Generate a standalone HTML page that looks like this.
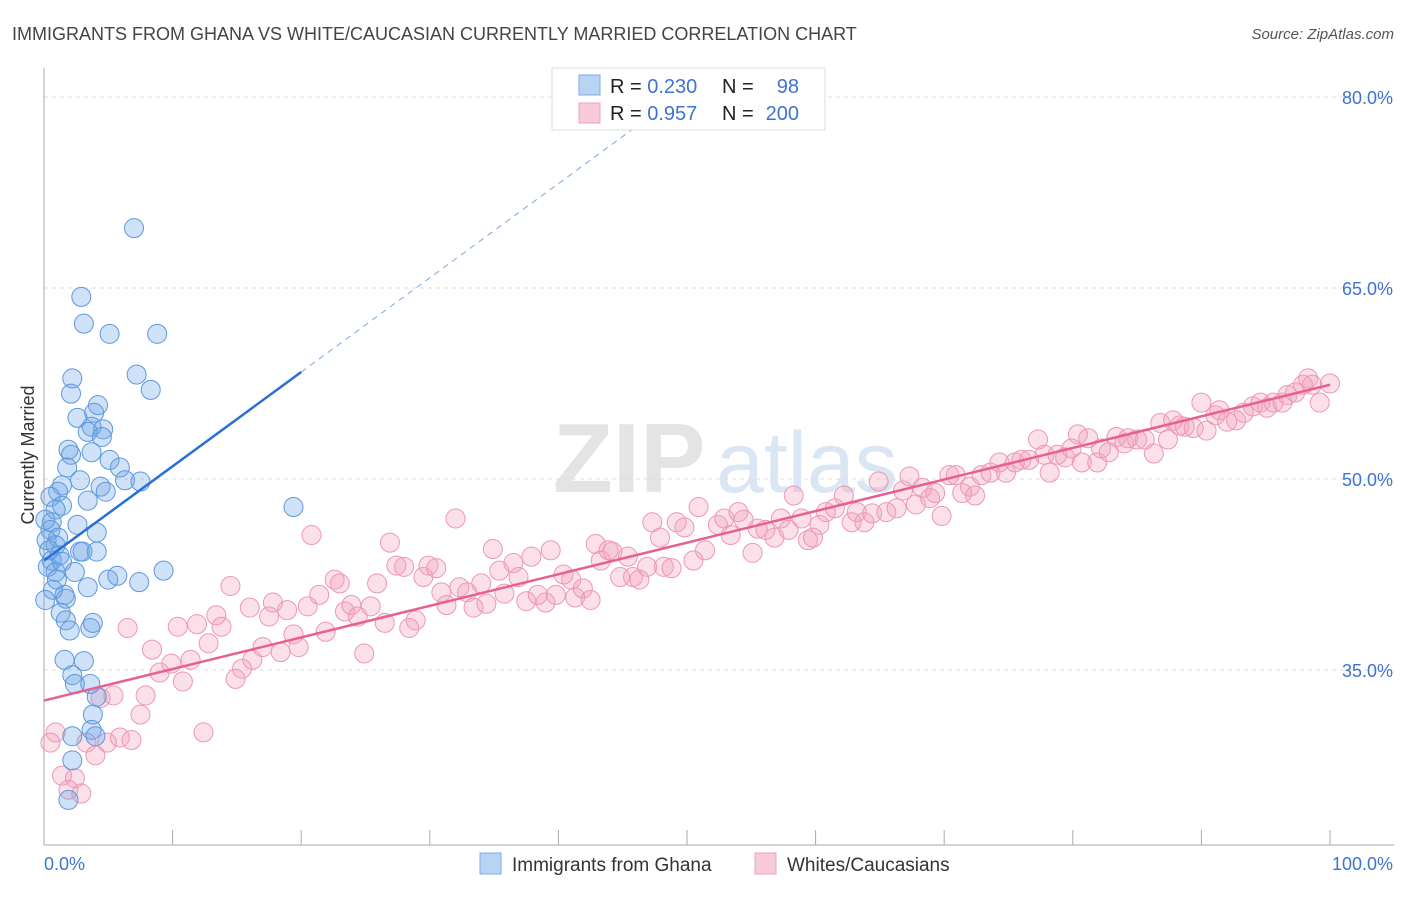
<!DOCTYPE html>
<html><head><meta charset="utf-8"><style>
body{margin:0;background:#fff;font-family:"Liberation Sans",sans-serif;}
svg text{font-family:"Liberation Sans",sans-serif;}
</style></head><body>
<svg id="chart" width="1406" height="892" viewBox="0 0 1406 892" xmlns="http://www.w3.org/2000/svg">
<text x="12" y="40" font-size="18" fill="#444">IMMIGRANTS FROM GHANA VS WHITE/CAUCASIAN CURRENTLY MARRIED CORRELATION CHART</text>
<text x="1394" y="39" font-size="15" fill="#555" font-style="italic" text-anchor="end">Source: ZipAtlas.com</text>
<g>
<text x="553" y="492" font-size="98" fill="#e4e4e4" font-family="Liberation Serif" font-weight="bold">ZIP</text>
<text x="716" y="492" font-size="86" fill="#dbe6f5">atlas</text>
</g>
<g id="grid"></g>
<g id="axes"></g>
<text transform="translate(34,455) rotate(-90)" font-size="18" fill="#333" text-anchor="middle">Currently Married</text>
<g id="pts"></g>
<g id="lines"></g>
<g>
<rect x="552" y="68" width="273" height="62" fill="#fff" stroke="#ddd"/>
<rect x="579" y="75" width="21" height="20" fill="#b9d3f3" stroke="#7eaee8"/>
<rect x="579" y="103" width="21" height="20" fill="#f9cad8" stroke="#eca1ba"/>
<text x="610" y="93" font-size="20" fill="#222">R = <tspan fill="#3f73d1">0.230</tspan></text>
<text x="722" y="93" font-size="20" fill="#222">N =</text>
<text x="799" y="93" font-size="20" fill="#3f73d1" text-anchor="end">98</text>
<text x="610" y="120" font-size="20" fill="#222">R = <tspan fill="#3f73d1">0.957</tspan></text>
<text x="722" y="120" font-size="20" fill="#222">N =</text>
<text x="799" y="120" font-size="20" fill="#3f73d1" text-anchor="end">200</text>
</g>
<g>
<rect x="480" y="853" width="21" height="21" fill="#b9d3f3" stroke="#7eaee8"/>
<text x="512" y="871" font-size="19" fill="#333">Immigrants from Ghana</text>
<rect x="755" y="853" width="21" height="21" fill="#f9cad8" stroke="#eca1ba"/>
<text x="787" y="871" font-size="19" fill="#333">Whites/Caucasians</text>
</g>
</svg>
<script>
const yTicks=[35,50,65,80];
const yTickLabels=["35.0%","50.0%","65.0%","80.0%"];
const xTickValues=[0,10,20,30,40,50,60,70,80,90,100];
const xEndLabels=["0.0%","100.0%"];
const blueX=[7.0,2.9,3.1,5.1,8.8,2.2,7.2,2.1,8.3,4.2,3.9,2.6,3.7,4.6,3.4,4.5,1.9,2.1,1.8,3.7,5.1,5.9,6.3,7.5,2.8,4.4,4.8,1.4,1.1,0.5,3.4,1.4,0.9,2.6,0.6,0.5,1.1,0.2,0.9,4.1,19.4,1.2,0.6,0.3,0.9,1.4,2.8,3.0,4.1,2.4,5.0,3.4,1.6,1.7,1.3,1.7,2.0,3.6,3.8,5.7,7.4,9.3,1.6,3.1,2.2,2.4,3.6,4.1,3.8,3.7,4.0,2.2,2.2,1.9,0.1,0.4,0.7,1.0,0.1];
const blueY=[69.7,64.3,62.2,61.4,61.4,57.9,58.2,56.7,57.0,55.8,55.2,54.8,54.1,53.9,53.7,53.3,52.3,51.9,50.9,52.1,51.5,50.9,49.9,49.8,49.9,49.4,49.0,49.5,49.0,48.6,48.3,47.9,47.6,46.4,46.6,46.0,45.4,45.2,44.8,45.8,47.8,44.0,43.6,43.1,42.7,43.5,44.3,44.3,44.3,42.7,42.1,41.5,40.9,40.6,39.5,38.9,38.1,38.3,38.7,42.4,41.9,42.8,35.8,35.7,34.6,33.9,33.9,32.9,31.5,30.3,29.8,29.8,27.9,24.8,46.8,44.4,41.3,42.1,40.5];
const pinkX=[6.5,8.4,7.9,7.5,5.4,4.4,0.9,0.5,3.3,4.0,4.9,5.9,6.8,12.4,1.4,2.4,1.9,2.9,9.0,9.9,10.8,11.4,10.4,11.9,12.8,13.4,13.8,14.5,16.0,17.5,17.8,18.9,16.2,17.0,15.4,14.9,18.4,19.4,19.8,20.5,21.4,21.9,20.8,22.6,23.0,23.4,23.9,24.4,25.4,24.9,25.9,26.5,26.9,27.4,28.0,28.4,28.9,29.5,29.9,30.5,30.9,31.3,32.0,32.3,32.9,33.4,34.0,34.4,34.9,35.4,35.8,36.5,36.9,37.5,37.9,38.4,39.0,39.4,39.8,40.4,41.0,41.3,41.9,42.5,42.9,43.3,43.9,44.2,44.8,45.4,45.8,46.3,46.9,47.3,47.9,48.2,48.8,49.2,
49.8,50.9,50.5,51.4,52.4,52.9,53.4,54.0,54.4,55.1,55.5,56.1,56.8,57.3,57.9,58.3,58.9,59.4,59.8,60.3,60.8,61.5,62.2,62.8,63.2,63.8,64.4,64.9,65.5,66.3,66.8,67.3,67.8,68.3,68.9,69.3,69.8,70.4,70.9,71.4,72.0,72.4,72.9,73.6,74.3,74.8,75.5,76.0,76.6,77.3,77.8,78.2,78.8,79.4,79.9,80.4,80.7,81.2,81.9,82.2,82.8,83.4,84.0,84.3,85.0,85.6,86.3,86.8,87.4,87.8,88.3,88.7,89.4,90.0,90.4,91.1,91.4,92.0,92.7,93.3,94.0,94.6,95.1,95.6,96.3,96.7,97.3,97.9,98.3,98.6,99.2,100.0];
const pinkY=[38.3,36.6,33.0,31.5,33.0,32.8,30.1,29.3,29.3,28.3,29.3,29.7,29.5,30.1,26.7,26.5,25.6,25.3,34.8,35.5,34.1,35.8,38.4,38.6,37.1,39.3,38.4,41.6,39.9,39.2,40.3,39.7,35.8,36.8,35.1,34.3,36.4,37.8,36.8,40.0,40.9,38.0,45.6,42.1,41.8,39.6,40.1,39.2,40.0,36.3,41.8,38.7,45.0,43.2,43.1,38.3,38.9,42.3,43.2,43.0,41.1,40.1,46.9,41.5,41.1,39.9,41.8,40.2,44.5,42.8,41.0,43.4,42.3,40.4,43.9,40.9,40.3,44.4,40.9,42.5,42.1,40.7,41.4,40.5,44.9,43.6,44.4,44.3,42.3,43.9,42.3,42.1,43.1,46.6,45.4,43.1,43.0,46.6,
46.2,47.8,43.6,44.4,46.4,46.9,45.6,47.4,46.8,44.2,46.1,46.0,45.4,46.9,46.0,48.7,46.9,45.2,45.4,46.4,47.4,47.7,48.7,46.6,47.4,46.6,47.3,49.8,47.4,47.7,49.1,50.2,48.0,49.3,48.5,48.9,47.1,50.3,50.3,48.9,49.4,48.7,50.3,50.5,51.3,50.5,51.3,51.5,51.5,53.1,51.9,50.5,51.9,51.7,52.4,53.5,51.3,53.2,51.3,52.4,52.1,53.3,52.8,53.2,53.1,53.1,52.0,54.4,53.1,54.6,54.2,54.1,54.0,56.0,53.8,55.0,55.4,54.5,54.6,55.2,55.7,56.0,55.6,56.0,56.0,56.6,56.8,57.4,57.9,57.4,56.0,57.5];
const blueFit=[43.6,0.74];   // intercept, slope
const pinkFit=[32.6,0.248];

const NS="http://www.w3.org/2000/svg";
const X0=44,X1=1330,YTOP=97,YBOT=670;
function sx(v){return X0+(X1-X0)*v/100;}
function sy(v){return YBOT-(YBOT-YTOP)*(v-35)/45;}
function mk(tag,attrs,parent){const e=document.createElementNS(NS,tag);for(const k in attrs)e.setAttribute(k,attrs[k]);parent.appendChild(e);return e;}
const grid=document.getElementById('grid'),axes=document.getElementById('axes');
yTicks.forEach((t,i)=>{
  const l=mk('line',{x1:44,x2:1394,y1:sy(t),y2:sy(t),stroke:'#ddd','stroke-dasharray':'4,4'},grid);
  
  
  const tx=mk('text',{x:1393,y:sy(t)+7,'font-size':18,fill:'#3f73d1','text-anchor':'end'},axes);
  tx.textContent=yTickLabels[i];
  
  
});
const ya=mk('line',{x1:44,x2:44,y1:68,y2:845,stroke:'#aaa'},axes);


const xa=mk('line',{x1:44,x2:1394,y1:845,y2:845,stroke:'#aaa'},axes);


xTickValues.forEach(v=>{
  const t=mk('line',{x1:sx(v),x2:sx(v),y1:830,y2:845,stroke:'#aaa'},axes);
  
  
});
const xl0=mk('text',{x:44,y:870,'font-size':18,fill:'#3f73d1'},axes);xl0.textContent=xEndLabels[0];


const xl1=mk('text',{x:1393,y:870,'font-size':18,fill:'#3f73d1','text-anchor':'end'},axes);xl1.textContent=xEndLabels[1];


const pts=document.getElementById('pts');


pinkX.forEach((x,i)=>{
  const c=mk('circle',{cx:sx(x),cy:sy(pinkY[i]),r:9.5,fill:'rgba(244,160,188,0.32)',stroke:'#ec98b4','stroke-width':1},pts);
  
  
});
blueX.forEach((x,i)=>{
  const c=mk('circle',{cx:sx(x),cy:sy(blueY[i]),r:9.5,fill:'rgba(110,165,230,0.32)',stroke:'#5d98dd','stroke-width':1},pts);
  
  
});
const lines=document.getElementById('lines');
const bEnd=(80-blueFit[0])/blueFit[1];
const bl=mk('line',{x1:sx(0),y1:sy(blueFit[0]),x2:sx(20),y2:sy(blueFit[0]+blueFit[1]*20),stroke:'#2a6fd6','stroke-width':2.5},lines);


const bd=mk('line',{x1:sx(20),y1:sy(blueFit[0]+blueFit[1]*20),x2:sx(bEnd),y2:sy(80),stroke:'#7aa6e0','stroke-width':1,'stroke-dasharray':'6,5'},lines);


const pl=mk('line',{x1:sx(0),y1:sy(pinkFit[0]),x2:sx(100),y2:sy(pinkFit[0]+pinkFit[1]*100),stroke:'#e8608f','stroke-width':2.5},lines);


</script>
</body></html>
